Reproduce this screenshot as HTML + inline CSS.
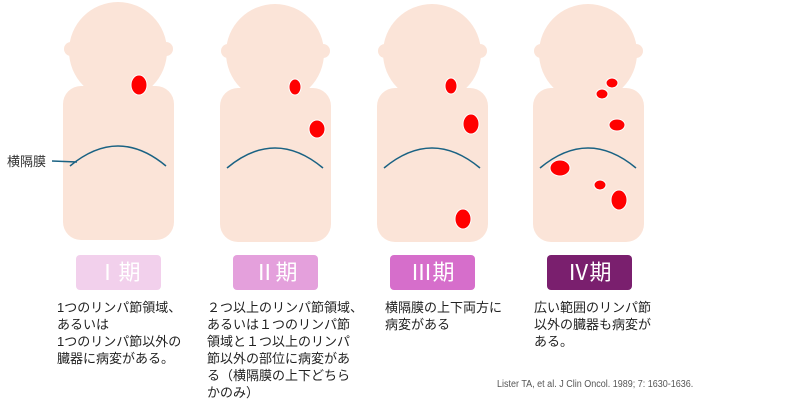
<!DOCTYPE html>
<html><head><meta charset="utf-8"><style>
body{margin:0;background:#fff;width:800px;height:403px;overflow:hidden;position:relative;font-family:"Liberation Sans","Noto Sans CJK JP",sans-serif}
.t{position:absolute;font-size:13px;line-height:17px;color:#222;white-space:nowrap}
.b{position:absolute;top:255px;width:85px;height:35px;border-radius:4px;color:#fff;font-size:22px;line-height:35px;text-align:center}
</style></head><body>
<svg width="800" height="403" style="position:absolute;left:0;top:0">
<defs>
<g id="fig">
<circle cx="118" cy="51" r="49" fill="#fbe4d8"/>
<circle cx="71" cy="49" r="7" fill="#fbe4d8"/>
<circle cx="166" cy="49" r="7" fill="#fbe4d8"/>
<path d="M85 86 L152 86 L140 100 L97 100 Z" fill="#fbe4d8"/>
<rect x="63" y="86" width="111" height="154" rx="18" fill="#fbe4d8"/>
<path d="M70 166 Q118 126 166 166" fill="none" stroke="#1a6283" stroke-width="1.5"/>
</g>
</defs>
<use href="#fig"/>
<use href="#fig" transform="translate(157,2)"/>
<use href="#fig" transform="translate(314,2)"/>
<use href="#fig" transform="translate(470,2)"/>
<g fill="#f00" stroke="#fff" stroke-width="1">
<ellipse cx="139" cy="85" rx="8" ry="10"/>
<ellipse cx="295" cy="87" rx="6" ry="8"/>
<ellipse cx="317" cy="129" rx="8" ry="9"/>
<ellipse cx="451" cy="86" rx="6" ry="8"/>
<ellipse cx="471" cy="124" rx="8" ry="10"/>
<ellipse cx="463" cy="219" rx="8" ry="10"/>
<ellipse cx="612" cy="83" rx="6" ry="5"/>
<ellipse cx="602" cy="94" rx="6" ry="5"/>
<ellipse cx="617" cy="125" rx="8" ry="6"/>
<ellipse cx="560" cy="168" rx="10" ry="8"/>
<ellipse cx="600" cy="185" rx="6" ry="5"/>
<ellipse cx="619" cy="200" rx="8" ry="10"/>
</g>
<path d="M52 161 L77 162" stroke="#1a6283" stroke-width="1.5"/>
</svg>
<div class="t" style="left:7px;top:153px;font-size:13px;color:#333">横隔膜</div>
<div class="b" style="left:76px;background:#f2d0ec">Ⅰ期</div>
<div class="b" style="left:233px;background:#e4a0dc">Ⅱ期</div>
<div class="b" style="left:390px;background:#d66ecb">Ⅲ期</div>
<div class="b" style="left:547px;background:#7a1f6e">Ⅳ期</div>
<div class="t" style="left:57px;top:299px">1つのリンパ節領域、<br>あるいは<br>1つのリンパ節以外の<br>臓器に病変がある。</div>
<div class="t" style="left:207px;top:299px">２つ以上のリンパ節領域、<br>あるいは１つのリンパ節<br>領域と１つ以上のリンパ<br>節以外の部位に病変があ<br>る（横隔膜の上下どちら<br>かのみ）</div>
<div class="t" style="left:385px;top:299px">横隔膜の上下両方に<br>病変がある</div>
<div class="t" style="left:534px;top:299px">広い範囲のリンパ節<br>以外の臓器も病変が<br>ある。</div>
<div class="t" style="left:497px;top:376px;font-size:10px;color:#555;transform:scaleX(0.9);transform-origin:0 0">Lister TA, et al. J Clin Oncol. 1989; 7: 1630-1636.</div>
</body></html>
